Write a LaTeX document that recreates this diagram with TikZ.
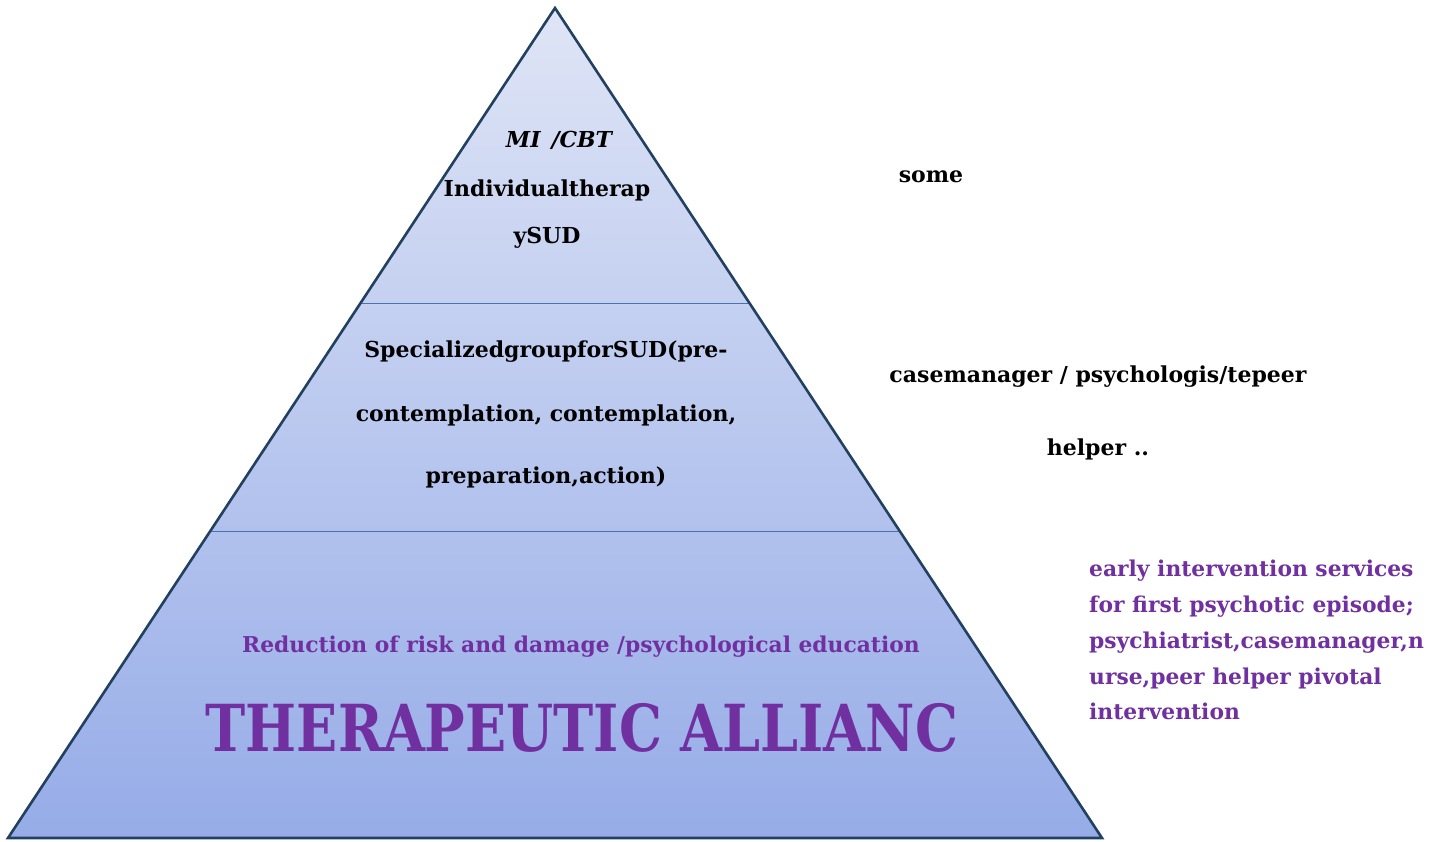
\documentclass[tikz,border=0pt]{standalone}
\usepackage{fontspec}
\setmainfont{DejaVu Serif}
\newfontfamily\condfont{DejaVu Serif Condensed}
\definecolor{topfill}{HTML}{DFE5F6}
\definecolor{botfill}{HTML}{96ACE8}
\definecolor{edgecol}{HTML}{22405F}
\definecolor{divcol}{HTML}{4A72B0}
\definecolor{purp}{HTML}{7030A0}
\tikzset{
  blk/.style={anchor=base, inner sep=0pt, font=\bfseries\fontsize{22}{26}\selectfont, text=black},
  prp/.style={anchor=base, inner sep=0pt, font=\bfseries\fontsize{21.8}{25}\selectfont, text=purp},
  prpl/.style={anchor=base west, inner sep=0pt, font=\bfseries\fontsize{21.8}{25}\selectfont, text=purp},
  big/.style={anchor=base, inner sep=0pt, font=\condfont\bfseries\fontsize{60}{66}\selectfont, text=purp},
  divline/.style={draw=divcol, line width=1pt},
}
\begin{document}
\begin{tikzpicture}[x=1pt,y=-1pt]
\useasboundingbox (0,0) rectangle (1443,841);
\coordinate (apex) at (555,8);
\coordinate (bl) at (8,838);
\coordinate (br) at (1102,838);
\coordinate (d1l) at (360.6,303);
\coordinate (d1r) at (749.4,303);
\coordinate (d2l) at (210.3,531);
\coordinate (d2r) at (899.7,531);
\shade[top color=topfill, bottom color=botfill] (apex) -- (br) -- (bl) -- cycle;
\draw[divline] (d1l) -- (d1r);
\draw[divline] (d2l) -- (d2r);
\draw[edgecol, line width=2.6pt, line join=miter] (apex) -- (br) -- (bl) -- cycle;

\node[blk] (mi) at (559,147) {\itshape MI\hspace{0.5em}/CBT};
\node[blk] (ind) at (547,196) {Individualtherap};
\node[blk] (ysud) at (547,243) {ySUD};
\node[blk] (some) at (931,182) {some};

\node[blk] (spec) at (546,357) {SpecializedgroupforSUD(pre-};
\node[blk] (cont) at (546,421) {contemplation, contemplation,};
\node[blk] (prep) at (546,483) {preparation,action)};
\node[blk] (case) at (1098,382) {casemanager / psychologis/tepeer};
\node[blk] (help) at (1098,455) {helper ..};

\node[prp] (red) at (581,652) {Reduction of risk and damage /psychological education};
\node[big] (ther) at (582,751) {\scalebox{1}[1.08]{THERAPEUTIC ALLIANC}};

\node[prpl] (r1) at (1089,576) {early intervention services};
\node[prpl] (r2) at (1089,612) {for first psychotic episode;};
\node[prpl] (r3) at (1089,648) {psychiatrist,casemanager,n};
\node[prpl] (r4) at (1089,684) {urse,peer helper pivotal};
\node[prpl] (r5) at (1089,719) {intervention};
\end{tikzpicture}
\end{document}
